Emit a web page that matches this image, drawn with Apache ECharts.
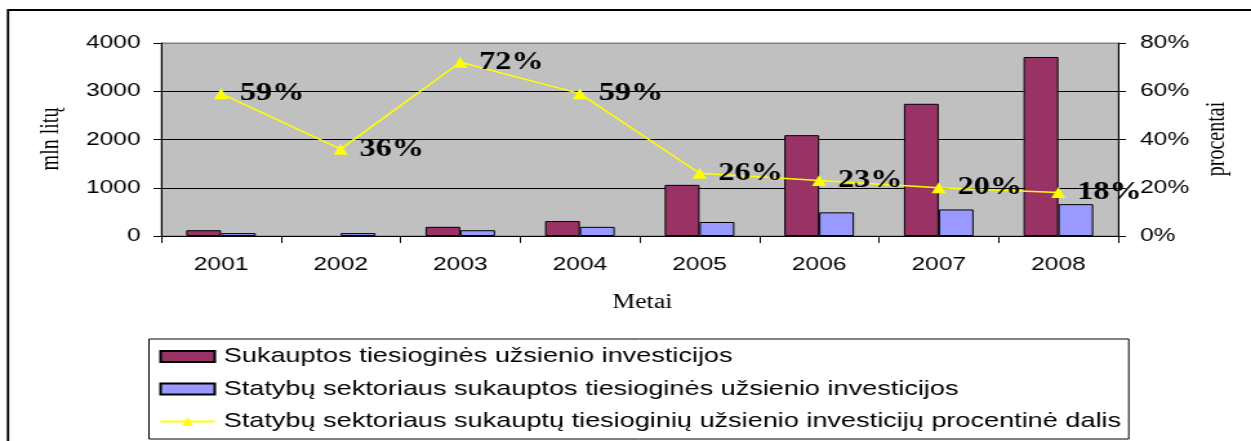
<!DOCTYPE html>
<html>
<head>
<meta charset="utf-8">
<script src="https://cdn.jsdelivr.net/npm/echarts@6/dist/echarts.min.js"></script>
<style>
    html, body { margin: 0; padding: 0; background: #fff; overflow: hidden; }
    /* the source picture is stretched sideways, so draw narrow and widen */
    #chart {
        width: 970px;
        height: 441px;
        transform: scaleX(1.2897);
        transform-origin: 0 0;
    }
</style>
</head>
<body>
<div id="chart"></div>
<script>
    // duomenys
    const years = ['2001', '2002', '2003', '2004', '2005', '2006', '2007', '2008'];
    const totalFdi = [120, null, 190, 310, 1060, 2090, 2740, 3710];
    const buildFdi = [60, 60, 120, 190, 290, 490, 550, 660];
    const buildShare = [59, 36, 72, 59, 26, 23, 20, 18];
    const leftTicks = { min: 0, max: 4000, interval: 1000 };
    const rightTicks = { min: 0, max: 80, interval: 20 };

    const sans = "'Liberation Sans', Arial, sans-serif";
    const serif = "'Liberation Serif', 'Times New Roman', serif";

    const chart = echarts.init(document.getElementById('chart'));

    const option = {
        animation: false,
        grid: {
            left: 125,
            top: 43,
            width: 742,
            height: 193,
            show: true,
            backgroundColor: '#C0C0C0',
            borderColor: '#808080',
            borderWidth: 1
        },
        legend: {
            orient: 'vertical',
            left: 115.5,
            top: 339,
            padding: [7, 6, 7, 8],
            itemGap: 11.5,
            itemWidth: 42,
            itemHeight: 11,
            borderColor: '#000',
            borderWidth: 1,
            textStyle: { fontFamily: sans, fontSize: 21, color: '#000', padding: [0, 0, 0, 2] },
            data: [
                { name: 'Sukauptos tiesioginės užsienio investicijos', icon: 'rect' },
                { name: 'Statybų sektoriaus sukauptos tiesioginės užsienio investicijos', icon: 'rect' },
                { name: 'Statybų sektoriaus sukauptų tiesioginių užsienio investicijų procentinė dalis' }
            ]
        },
        xAxis: {
            type: 'category',
            data: years,
            boundaryGap: true,
            axisLine: { lineStyle: { color: '#000', width: 1 } },
            axisTick: { show: true, length: 7, lineStyle: { color: '#000' } },
            axisLabel: { fontFamily: sans, fontSize: 19, color: '#000', margin: 19 },
            splitLine: { show: false }
        },
        yAxis: [
            {
                type: 'value',
                min: leftTicks.min,
                max: leftTicks.max,
                interval: leftTicks.interval,
                axisLine: { show: true, lineStyle: { color: '#000', width: 1 } },
                axisTick: { show: true, length: 6, lineStyle: { color: '#000' } },
                axisLabel: { fontFamily: sans, fontSize: 19, color: '#000', margin: 16, formatter: (v) => String(v) },
                splitLine: {
                    show: true,
                    lineStyle: { color: ['#000', '#000', '#000', '#000', '#808080'], width: 1 }
                }
            },
            {
                type: 'value',
                min: rightTicks.min,
                max: rightTicks.max,
                interval: rightTicks.interval,
                position: 'right',
                axisLine: { show: true, lineStyle: { color: '#000', width: 1 } },
                axisTick: { show: true, length: 6, lineStyle: { color: '#000' } },
                axisLabel: { fontFamily: sans, fontSize: 19, color: '#000', margin: 17, formatter: '{value}%' },
                splitLine: { show: false }
            }
        ],
        series: [
            {
                name: 'Sukauptos tiesioginės užsienio investicijos',
                type: 'bar',
                data: totalFdi,
                barWidth: 27,
                barGap: '0%',
                itemStyle: { color: '#993366', borderColor: '#000', borderWidth: 1 }
            },
            {
                name: 'Statybų sektoriaus sukauptos tiesioginės užsienio investicijos',
                type: 'bar',
                data: buildFdi,
                barWidth: 27,
                barGap: '0%',
                itemStyle: { color: '#9999FF', borderColor: '#000', borderWidth: 1 }
            },
            {
                name: 'Statybų sektoriaus sukauptų tiesioginių užsienio investicijų procentinė dalis',
                type: 'line',
                yAxisIndex: 1,
                data: buildShare,
                symbol: 'triangle',
                symbolSize: [11, 11],
                lineStyle: { color: '#FFFF00', width: 1.5 },
                itemStyle: { color: '#FFFF00' },
                z: 5,
                label: {
                    show: true,
                    position: 'right',
                    distance: 9,
                    formatter: '{c}%',
                    fontFamily: serif,
                    fontWeight: 'bold',
                    fontSize: 25,
                    color: '#000'
                }
            }
        ],
        graphic: [
            {
                // rėmelis aplink visą diagramą
                type: 'rect',
                shape: { x: 6.2, y: 10, width: 1000, height: 500 },
                style: { fill: 'none', stroke: '#000', lineWidth: 1.8 },
                silent: true
            },
            {
                type: 'text',
                x: 40,
                y: 139,
                rotation: Math.PI / 2,
                style: { text: 'mln litų', fontFamily: serif, fontSize: 20, fill: '#000', align: 'center', verticalAlign: 'middle' }
            },
            {
                type: 'text',
                x: 944,
                y: 139,
                rotation: Math.PI / 2,
                style: { text: 'procentai', fontFamily: serif, fontSize: 20, fill: '#000', align: 'center', verticalAlign: 'middle' }
            },
            {
                type: 'text',
                x: 498,
                y: 303,
                style: { text: 'Metai', fontFamily: serif, fontSize: 20, fill: '#000', align: 'center', verticalAlign: 'middle' }
            }
        ]
    };

    chart.setOption(option);
</script>
</body>
</html>
